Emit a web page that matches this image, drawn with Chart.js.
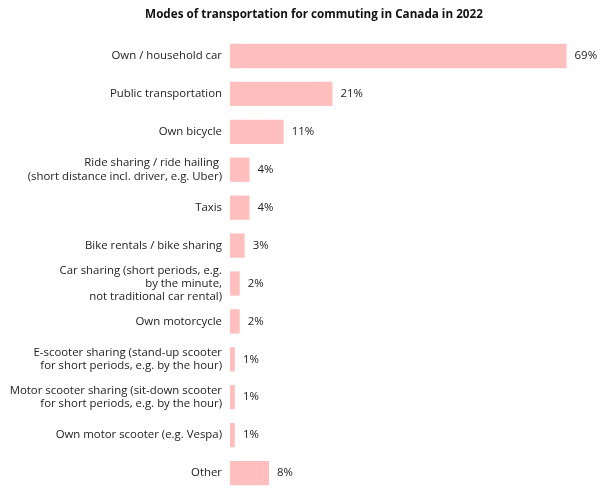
<!DOCTYPE html>
<html>
<head>
<meta charset="utf-8">
<script src="https://cdn.jsdelivr.net/npm/chart.js@4/dist/chart.umd.min.js"></script>
<style>
  body { margin: 0; background: #fff; }
  #wrap { width: 600px; height: 496px; }
</style>
</head>
<body>
<div id="wrap"><canvas id="modesChart"></canvas></div>
<script>
// categories (multi-line ones as arrays)
var categories = [
  "Own / household car",
  "Public transportation",
  "Own bicycle",
  ["Ride sharing / ride hailing ", "(short distance incl. driver, e.g. Uber)"],
  "Taxis",
  "Bike rentals / bike sharing",
  ["Car sharing (short periods, e.g.", "by the minute,", "not traditional car rental)"],
  "Own motorcycle",
  ["E-scooter sharing (stand-up scooter", "for short periods, e.g. by the hour)"],
  ["Motor scooter sharing (sit-down scooter", "for short periods, e.g. by the hour)"],
  "Own motor scooter (e.g. Vespa)",
  "Other"
];
var shares = [69, 21, 11, 4, 4, 3, 2, 2, 1, 1, 1, 8];
var chartTitle = "Modes of transportation for commuting in Canada in 2022";

/* value labels at bar ends */
var barValueLabels = {
  id: "barValueLabels",
  afterDatasetsDraw: function (chart) {
    var ctx = chart.ctx;
    var meta = chart.getDatasetMeta(0);
    ctx.save();
    ctx.font = "11.4px 'Open Sans'";
    ctx.fillStyle = "#222";
    ctx.textAlign = "left";
    ctx.textBaseline = "middle";
    meta.data.forEach(function (bar, i) {
      ctx.fillText(shares[i] + "%", bar.x + 8, bar.y);
    });
    ctx.restore();
  }
};

var ctx = document.getElementById("modesChart");
var myChart = new Chart(ctx, {
  type: "bar",
  data: {
    labels: categories,
    datasets: [{
      label: "Share",
      data: shares,
      backgroundColor: "#ffbfbf",
      borderWidth: 0,
      barPercentage: 0.8,
      categoryPercentage: 0.8
    }]
  },
  options: {
    indexAxis: "y",
    responsive: true,
    maintainAspectRatio: false,
    animation: false,
    // extra left padding keeps the title centred where the original has it
    layout: { padding: { left: 37, right: 9, top: 4, bottom: 4 } },
    plugins: {
      legend: { display: false },
      tooltip: { enabled: false },
      title: {
        display: true,
        text: chartTitle,
        color: "#111",
        font: { family: "Open Sans", size: 11.7, weight: "bold" },
        padding: { top: 4, bottom: 15 }
      }
    },
    scales: {
      x: {
        min: 0,
        max: 74,
        display: false
      },
      y: {
        grid: { display: false, drawTicks: false },
        border: { display: false },
        ticks: {
          autoSkip: false,
          color: "#222",
          padding: 8,
          font: { family: "Open Sans", size: 11.4, lineHeight: 1.15 }
        },
        afterFit: function (scale) {
          scale.width = 193;
          scale.paddingTop = 0;
          scale.paddingBottom = 0;
          // long labels run past the scale box, so don't clip them
          scale._computeLabelArea = function () { return undefined; };
        }
      }
    }
  },
  plugins: [barValueLabels]
});
</script>
</body>
</html>
